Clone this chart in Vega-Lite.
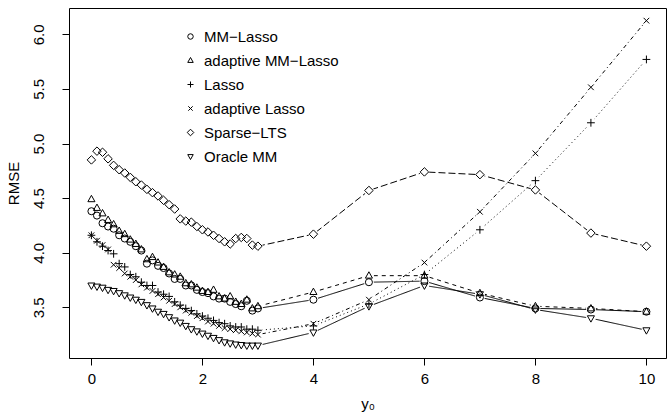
{
  "$schema": "https://vega.github.io/schema/vega-lite/v6.json",
  "width": 597,
  "height": 350,
  "autosize": {"type": "none"},
  "padding": {"left": 69, "top": 8, "right": 1, "bottom": 60},
  "background": "white",
  "config": {
    "view": {"stroke": "black", "strokeWidth": 1},
    "font": "Liberation Sans",
    "axis": {"domain": false, "grid": false, "tickColor": "black", "tickSize": 7, "tickWidth": 1,
      "labelFont": "Liberation Sans", "labelFontSize": 15, "labelColor": "black",
      "titleFont": "Liberation Sans", "titleFontSize": 15, "titleFontWeight": "normal", "titleColor": "black"}
  },
  "resolve": {"legend": {"strokeDash": "independent", "shape": "independent"}, "scale": {"strokeDash": "independent", "shape": "independent"}},
  "data": {"values": [
    {"x":0,"m":"MM−Lasso","y":4.38},{"x":0.1,"m":"MM−Lasso","y":4.34},{"x":0.2,"m":"MM−Lasso","y":4.27},{"x":0.3,"m":"MM−Lasso","y":4.24},{"x":0.4,"m":"MM−Lasso","y":4.22},{"x":0.5,"m":"MM−Lasso","y":4.16},{"x":0.6,"m":"MM−Lasso","y":4.13},{"x":0.7,"m":"MM−Lasso","y":4.10},{"x":0.8,"m":"MM−Lasso","y":4.06},{"x":0.9,"m":"MM−Lasso","y":4.02},{"x":1,"m":"MM−Lasso","y":3.90},{"x":1.1,"m":"MM−Lasso","y":3.93},{"x":1.2,"m":"MM−Lasso","y":3.88},{"x":1.3,"m":"MM−Lasso","y":3.86},{"x":1.4,"m":"MM−Lasso","y":3.81},{"x":1.5,"m":"MM−Lasso","y":3.76},{"x":1.6,"m":"MM−Lasso","y":3.76},{"x":1.7,"m":"MM−Lasso","y":3.70},{"x":1.8,"m":"MM−Lasso","y":3.70},{"x":1.9,"m":"MM−Lasso","y":3.66},{"x":2,"m":"MM−Lasso","y":3.64},{"x":2.1,"m":"MM−Lasso","y":3.63},{"x":2.2,"m":"MM−Lasso","y":3.60},{"x":2.3,"m":"MM−Lasso","y":3.58},{"x":2.4,"m":"MM−Lasso","y":3.58},{"x":2.5,"m":"MM−Lasso","y":3.55},{"x":2.6,"m":"MM−Lasso","y":3.53},{"x":2.7,"m":"MM−Lasso","y":3.51},{"x":2.8,"m":"MM−Lasso","y":3.56},{"x":2.9,"m":"MM−Lasso","y":3.47},{"x":3,"m":"MM−Lasso","y":3.49},{"x":4,"m":"MM−Lasso","y":3.57},{"x":5,"m":"MM−Lasso","y":3.73},{"x":6,"m":"MM−Lasso","y":3.74},{"x":7,"m":"MM−Lasso","y":3.59},{"x":8,"m":"MM−Lasso","y":3.49},{"x":9,"m":"MM−Lasso","y":3.48},{"x":10,"m":"MM−Lasso","y":3.46},
    {"x":0,"m":"adaptive MM−Lasso","y":4.49},{"x":0.1,"m":"adaptive MM−Lasso","y":4.41},{"x":0.2,"m":"adaptive MM−Lasso","y":4.36},{"x":0.3,"m":"adaptive MM−Lasso","y":4.30},{"x":0.4,"m":"adaptive MM−Lasso","y":4.26},{"x":0.5,"m":"adaptive MM−Lasso","y":4.20},{"x":0.6,"m":"adaptive MM−Lasso","y":4.17},{"x":0.7,"m":"adaptive MM−Lasso","y":4.12},{"x":0.8,"m":"adaptive MM−Lasso","y":4.08},{"x":0.9,"m":"adaptive MM−Lasso","y":4.03},{"x":1,"m":"adaptive MM−Lasso","y":3.94},{"x":1.1,"m":"adaptive MM−Lasso","y":3.96},{"x":1.2,"m":"adaptive MM−Lasso","y":3.91},{"x":1.3,"m":"adaptive MM−Lasso","y":3.87},{"x":1.4,"m":"adaptive MM−Lasso","y":3.82},{"x":1.5,"m":"adaptive MM−Lasso","y":3.80},{"x":1.6,"m":"adaptive MM−Lasso","y":3.78},{"x":1.7,"m":"adaptive MM−Lasso","y":3.72},{"x":1.8,"m":"adaptive MM−Lasso","y":3.71},{"x":1.9,"m":"adaptive MM−Lasso","y":3.68},{"x":2,"m":"adaptive MM−Lasso","y":3.65},{"x":2.1,"m":"adaptive MM−Lasso","y":3.64},{"x":2.2,"m":"adaptive MM−Lasso","y":3.66},{"x":2.3,"m":"adaptive MM−Lasso","y":3.60},{"x":2.4,"m":"adaptive MM−Lasso","y":3.58},{"x":2.5,"m":"adaptive MM−Lasso","y":3.60},{"x":2.6,"m":"adaptive MM−Lasso","y":3.55},{"x":2.7,"m":"adaptive MM−Lasso","y":3.53},{"x":2.8,"m":"adaptive MM−Lasso","y":3.57},{"x":2.9,"m":"adaptive MM−Lasso","y":3.49},{"x":3,"m":"adaptive MM−Lasso","y":3.51},{"x":4,"m":"adaptive MM−Lasso","y":3.64},{"x":5,"m":"adaptive MM−Lasso","y":3.79},{"x":6,"m":"adaptive MM−Lasso","y":3.79},{"x":7,"m":"adaptive MM−Lasso","y":3.63},{"x":8,"m":"adaptive MM−Lasso","y":3.51},{"x":9,"m":"adaptive MM−Lasso","y":3.49},{"x":10,"m":"adaptive MM−Lasso","y":3.46},
    {"x":0,"m":"Lasso","y":4.16},{"x":0.1,"m":"Lasso","y":4.10},{"x":0.2,"m":"Lasso","y":4.06},{"x":0.3,"m":"Lasso","y":4.02},{"x":0.4,"m":"Lasso","y":3.99},{"x":0.5,"m":"Lasso","y":3.90},{"x":0.6,"m":"Lasso","y":3.87},{"x":0.7,"m":"Lasso","y":3.80},{"x":0.8,"m":"Lasso","y":3.78},{"x":0.9,"m":"Lasso","y":3.73},{"x":1,"m":"Lasso","y":3.70},{"x":1.1,"m":"Lasso","y":3.70},{"x":1.2,"m":"Lasso","y":3.64},{"x":1.3,"m":"Lasso","y":3.62},{"x":1.4,"m":"Lasso","y":3.60},{"x":1.5,"m":"Lasso","y":3.55},{"x":1.6,"m":"Lasso","y":3.52},{"x":1.7,"m":"Lasso","y":3.49},{"x":1.8,"m":"Lasso","y":3.47},{"x":1.9,"m":"Lasso","y":3.44},{"x":2,"m":"Lasso","y":3.42},{"x":2.1,"m":"Lasso","y":3.40},{"x":2.2,"m":"Lasso","y":3.38},{"x":2.3,"m":"Lasso","y":3.36},{"x":2.4,"m":"Lasso","y":3.35},{"x":2.5,"m":"Lasso","y":3.33},{"x":2.6,"m":"Lasso","y":3.32},{"x":2.7,"m":"Lasso","y":3.32},{"x":2.8,"m":"Lasso","y":3.30},{"x":2.9,"m":"Lasso","y":3.30},{"x":3,"m":"Lasso","y":3.29},{"x":4,"m":"Lasso","y":3.33},{"x":5,"m":"Lasso","y":3.53},{"x":6,"m":"Lasso","y":3.80},{"x":7,"m":"Lasso","y":4.21},{"x":8,"m":"Lasso","y":4.66},{"x":9,"m":"Lasso","y":5.19},{"x":10,"m":"Lasso","y":5.77},
    {"x":0,"m":"adaptive Lasso","y":4.16},{"x":0.1,"m":"adaptive Lasso","y":4.11},{"x":0.2,"m":"adaptive Lasso","y":4.07},{"x":0.3,"m":"adaptive Lasso","y":4.03},{"x":0.4,"m":"adaptive Lasso","y":3.89},{"x":0.5,"m":"adaptive Lasso","y":3.86},{"x":0.6,"m":"adaptive Lasso","y":3.81},{"x":0.7,"m":"adaptive Lasso","y":3.78},{"x":0.8,"m":"adaptive Lasso","y":3.75},{"x":0.9,"m":"adaptive Lasso","y":3.71},{"x":1,"m":"adaptive Lasso","y":3.68},{"x":1.1,"m":"adaptive Lasso","y":3.65},{"x":1.2,"m":"adaptive Lasso","y":3.62},{"x":1.3,"m":"adaptive Lasso","y":3.59},{"x":1.4,"m":"adaptive Lasso","y":3.56},{"x":1.5,"m":"adaptive Lasso","y":3.53},{"x":1.6,"m":"adaptive Lasso","y":3.50},{"x":1.7,"m":"adaptive Lasso","y":3.47},{"x":1.8,"m":"adaptive Lasso","y":3.45},{"x":1.9,"m":"adaptive Lasso","y":3.42},{"x":2,"m":"adaptive Lasso","y":3.40},{"x":2.1,"m":"adaptive Lasso","y":3.37},{"x":2.2,"m":"adaptive Lasso","y":3.35},{"x":2.3,"m":"adaptive Lasso","y":3.33},{"x":2.4,"m":"adaptive Lasso","y":3.31},{"x":2.5,"m":"adaptive Lasso","y":3.30},{"x":2.6,"m":"adaptive Lasso","y":3.29},{"x":2.7,"m":"adaptive Lasso","y":3.28},{"x":2.8,"m":"adaptive Lasso","y":3.27},{"x":2.9,"m":"adaptive Lasso","y":3.26},{"x":3,"m":"adaptive Lasso","y":3.25},{"x":4,"m":"adaptive Lasso","y":3.35},{"x":5,"m":"adaptive Lasso","y":3.57},{"x":6,"m":"adaptive Lasso","y":3.91},{"x":7,"m":"adaptive Lasso","y":4.375},{"x":8,"m":"adaptive Lasso","y":4.91},{"x":9,"m":"adaptive Lasso","y":5.515},{"x":10,"m":"adaptive Lasso","y":6.125},
    {"x":0,"m":"Sparse−LTS","y":4.85},{"x":0.1,"m":"Sparse−LTS","y":4.93},{"x":0.2,"m":"Sparse−LTS","y":4.92},{"x":0.3,"m":"Sparse−LTS","y":4.86},{"x":0.4,"m":"Sparse−LTS","y":4.80},{"x":0.5,"m":"Sparse−LTS","y":4.76},{"x":0.6,"m":"Sparse−LTS","y":4.73},{"x":0.7,"m":"Sparse−LTS","y":4.69},{"x":0.8,"m":"Sparse−LTS","y":4.65},{"x":0.9,"m":"Sparse−LTS","y":4.62},{"x":1,"m":"Sparse−LTS","y":4.58},{"x":1.1,"m":"Sparse−LTS","y":4.55},{"x":1.2,"m":"Sparse−LTS","y":4.52},{"x":1.3,"m":"Sparse−LTS","y":4.48},{"x":1.4,"m":"Sparse−LTS","y":4.44},{"x":1.5,"m":"Sparse−LTS","y":4.40},{"x":1.6,"m":"Sparse−LTS","y":4.31},{"x":1.7,"m":"Sparse−LTS","y":4.29},{"x":1.8,"m":"Sparse−LTS","y":4.28},{"x":1.9,"m":"Sparse−LTS","y":4.24},{"x":2,"m":"Sparse−LTS","y":4.21},{"x":2.1,"m":"Sparse−LTS","y":4.19},{"x":2.2,"m":"Sparse−LTS","y":4.16},{"x":2.3,"m":"Sparse−LTS","y":4.13},{"x":2.4,"m":"Sparse−LTS","y":4.10},{"x":2.5,"m":"Sparse−LTS","y":4.08},{"x":2.6,"m":"Sparse−LTS","y":4.13},{"x":2.7,"m":"Sparse−LTS","y":4.14},{"x":2.8,"m":"Sparse−LTS","y":4.13},{"x":2.9,"m":"Sparse−LTS","y":4.07},{"x":3,"m":"Sparse−LTS","y":4.06},{"x":4,"m":"Sparse−LTS","y":4.17},{"x":5,"m":"Sparse−LTS","y":4.57},{"x":6,"m":"Sparse−LTS","y":4.74},{"x":7,"m":"Sparse−LTS","y":4.715},{"x":8,"m":"Sparse−LTS","y":4.575},{"x":9,"m":"Sparse−LTS","y":4.18},{"x":10,"m":"Sparse−LTS","y":4.06},
    {"x":0,"m":"Oracle MM","y":3.70},{"x":0.1,"m":"Oracle MM","y":3.69},{"x":0.2,"m":"Oracle MM","y":3.68},{"x":0.3,"m":"Oracle MM","y":3.66},{"x":0.4,"m":"Oracle MM","y":3.65},{"x":0.5,"m":"Oracle MM","y":3.63},{"x":0.6,"m":"Oracle MM","y":3.61},{"x":0.7,"m":"Oracle MM","y":3.59},{"x":0.8,"m":"Oracle MM","y":3.57},{"x":0.9,"m":"Oracle MM","y":3.55},{"x":1,"m":"Oracle MM","y":3.52},{"x":1.1,"m":"Oracle MM","y":3.49},{"x":1.2,"m":"Oracle MM","y":3.46},{"x":1.3,"m":"Oracle MM","y":3.44},{"x":1.4,"m":"Oracle MM","y":3.41},{"x":1.5,"m":"Oracle MM","y":3.38},{"x":1.6,"m":"Oracle MM","y":3.36},{"x":1.7,"m":"Oracle MM","y":3.33},{"x":1.8,"m":"Oracle MM","y":3.30},{"x":1.9,"m":"Oracle MM","y":3.28},{"x":2,"m":"Oracle MM","y":3.26},{"x":2.1,"m":"Oracle MM","y":3.24},{"x":2.2,"m":"Oracle MM","y":3.22},{"x":2.3,"m":"Oracle MM","y":3.20},{"x":2.4,"m":"Oracle MM","y":3.18},{"x":2.5,"m":"Oracle MM","y":3.17},{"x":2.6,"m":"Oracle MM","y":3.16},{"x":2.7,"m":"Oracle MM","y":3.155},{"x":2.8,"m":"Oracle MM","y":3.15},{"x":2.9,"m":"Oracle MM","y":3.15},{"x":3,"m":"Oracle MM","y":3.15},{"x":4,"m":"Oracle MM","y":3.27},{"x":5,"m":"Oracle MM","y":3.51},{"x":6,"m":"Oracle MM","y":3.70},{"x":7,"m":"Oracle MM","y":3.62},{"x":8,"m":"Oracle MM","y":3.48},{"x":9,"m":"Oracle MM","y":3.40},{"x":10,"m":"Oracle MM","y":3.29}
  ]},
  "encoding": {
    "x": {"field": "x", "type": "quantitative",
      "scale": {"domain": [-0.404, 10.353], "nice": false, "zero": false},
      "axis": {"values": [0, 2, 4, 6, 8, 10], "title": "y₀", "labelPadding": 6, "titlePadding": 10, "labelFlush": false}},
    "y": {"field": "y", "type": "quantitative",
      "scale": {"domain": [3.036, 6.241], "nice": false, "zero": false},
      "axis": {"values": [3.5, 4.0, 4.5, 5.0, 5.5, 6.0], "format": ".1f", "title": "RMSE",
        "labelAngle": -90, "labelAlign": "center", "labelBaseline": "bottom", "labelPadding": 16, "titlePadding": 10, "labelFlush": false}}
  },
  "layer": [
    {
      "transform": [{"filter": "datum.x >= 3"}],
      "mark": {"type": "line", "color": "black", "strokeWidth": 1},
      "encoding": {
        "detail": {"field": "m"},
        "strokeDash": {"field": "m", "type": "nominal", "legend": null,
          "scale": {"domain": ["MM−Lasso", "adaptive MM−Lasso", "Lasso", "adaptive Lasso", "Sparse−LTS", "Oracle MM"],
            "range": [[1, 0], [4, 4], [1, 3], [1, 3, 4, 3], [7, 3], [1, 0]]}}
      }
    },
    {
      "transform": [{"filter": "datum.x >= 3"}],
      "mark": {"type": "point", "shape": "circle", "filled": true, "fill": "white", "opacity": 1, "strokeWidth": 0, "size": 95},
      "encoding": {}
    },
    {
      "mark": {"type": "point", "filled": false, "color": "black", "opacity": 1, "strokeWidth": 1, "size": 50},
      "encoding": {
        "shape": {"field": "m", "type": "nominal",
          "scale": {"domain": ["MM−Lasso", "adaptive MM−Lasso", "Lasso", "adaptive Lasso", "Sparse−LTS", "Oracle MM"],
            "range": ["circle", "M0,-1.1L1,0.7L-1,0.7Z", "M-1.1,0L1.1,0M0,-1.1L0,1.1", "M-0.8,-0.8L0.8,0.8M-0.8,0.8L0.8,-0.8", "M-1.2,0L0,-1.2L1.2,0L0,1.2Z", "M0,1.1L1,-0.7L-1,-0.7Z"]},
          "legend": {"title": null, "orient": "none", "legendX": 114, "legendY": 21, "padding": 0,
            "labelFont": "Liberation Sans", "labelFontSize": 15, "labelColor": "black", "labelOffset": 6,
            "symbolSize": 30, "symbolType": "circle", "symbolStrokeColor": "black", "symbolStrokeWidth": 1, "symbolFillColor": "transparent",
            "rowPadding": 8}}
      }
    }
  ]
}
